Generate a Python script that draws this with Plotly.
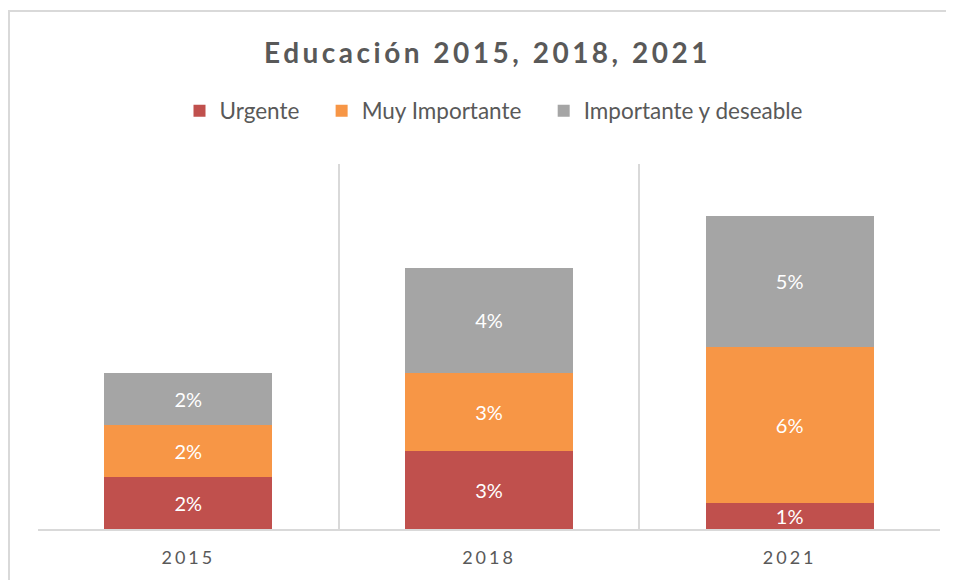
import plotly.graph_objects as go

years = ["2015", "2018", "2021"]
urgente = [0.02, 0.03, 0.01]
muy_importante = [0.02, 0.03, 0.06]
importante_deseable = [0.02, 0.04, 0.05]
series_names = ["Urgente", "Muy Importante", "Importante y deseable"]
colors = ["#C0504D", "#F79646", "#A5A5A5"]
title_text = "Educación 2015, 2018, 2021"

FONT = "Lato"
TXT = "#595959"
PAD = "&nbsp;&nbsp;&nbsp;"

fig = go.Figure()
for i, (name, vals, col) in enumerate(zip(series_names, [urgente, muy_importante, importante_deseable], colors)):
    fig.add_trace(go.Bar(
        x=years, y=vals, name=name + (PAD if i < 2 else ""),
        marker=dict(color=col, line=dict(width=0)),
        texttemplate="%{y:.0%}", textposition="inside", insidetextanchor="middle",
        textangle=0, constraintext="none",
        textfont=dict(family=FONT, size=20, color="white"),
        hoverinfo="skip",
    ))

# page has an 8px body margin; the figure is sized to fill the rest of the window
OFF = 8
W, H = 954 - OFF, 580 - OFF
L, R, T, B = 38 - OFF, 954 - 940, 164 - OFF, 580 - 529
pw, ph = W - L - R, H - T - B

def px_x(px):
    return (px - OFF - L) / pw

def px_y(py):
    return (H - B - (py - OFF)) / ph

fig.update_layout(
    width=W, height=H,
    barmode="stack", bargap=0.442,
    margin=dict(l=L, r=R, t=T, b=B, autoexpand=False),
    paper_bgcolor="white", plot_bgcolor="white",
    font=dict(family=FONT, color=TXT),
    title=dict(
        text='<span style="letter-spacing:3.5px"><b>' + title_text + '</b></span>',
        font=dict(family=FONT, size=28, color=TXT),
        x=px_x(487.5), xref="paper", xanchor="center",
        y=1 - (53 - OFF) / H, yref="container", yanchor="middle",
    ),
    legend=dict(
        orientation="h", x=px_x(494), xref="paper", xanchor="center",
        y=1 - (111 - OFF) / H, yref="container", yanchor="middle",
        font=dict(family=FONT, size=22.5, color=TXT),
        traceorder="normal", itemclick=False, itemdoubleclick=False,
    ),
    xaxis=dict(
        type="category", tickson="boundaries", showgrid=True,
        gridcolor="#D9D9D9", gridwidth=1.5,
        showline=True, linecolor="#D9D9D9", linewidth=1.5,
        ticks="", tickfont=dict(family=FONT, size=18, color=TXT),
        tickvals=years, ticklabelstandoff=12,
        ticktext=['<span style="letter-spacing:3px">' + y + '</span>' for y in years],
        fixedrange=True,
    ),
    yaxis=dict(
        range=[0, 0.14], showgrid=False, showticklabels=False, zeroline=False,
        showline=False, ticks="", fixedrange=True,
    ),
    uniformtext=dict(minsize=20, mode="show"),
    shapes=[dict(
        type="rect", xref="paper", yref="paper",
        x0=px_x(9), x1=px_x(990), y0=px_y(620), y1=px_y(11),
        line=dict(color="#D9D9D9", width=2), fillcolor="rgba(0,0,0,0)", layer="below",
    )],
)

fig.write_html("out.html")
